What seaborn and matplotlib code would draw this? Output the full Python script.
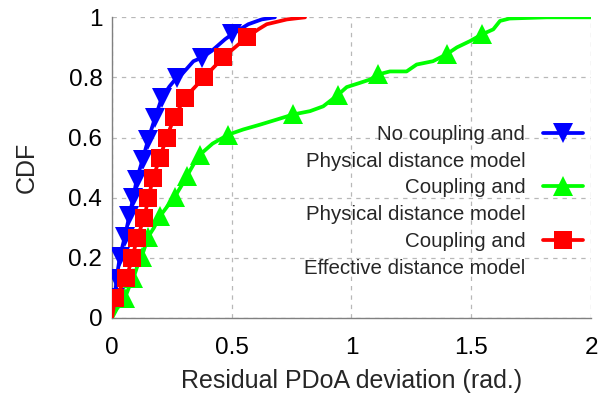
import matplotlib
matplotlib.use("Agg")
import matplotlib.pyplot as plt
from matplotlib.lines import Line2D
import seaborn as sns
import pandas as pd

# CDF curves of the residual PDoA deviation (rad.)
blue_x = [0.0, 0.006, 0.0125, 0.019, 0.033, 0.054, 0.072, 0.089, 0.103, 0.128,
          0.151, 0.180, 0.208, 0.240, 0.270, 0.291, 0.340, 0.375, 0.416, 0.472,
          0.500, 0.569, 0.625, 0.680]
blue_y = [0.0, 0.03, 0.066, 0.131, 0.204, 0.271, 0.338, 0.400, 0.460, 0.527,
          0.593, 0.666, 0.732, 0.770, 0.799, 0.810, 0.854, 0.866, 0.888, 0.927,
          0.943, 0.977, 0.993, 1.0]
blue_marks = [2, 3, 4, 5, 6, 7, 8, 9, 10, 11, 12, 14, 17, 20]

green_x = [0.0, 0.020, 0.054, 0.070, 0.089, 0.105, 0.124, 0.152, 0.175, 0.200,
           0.230, 0.263, 0.290, 0.312, 0.340, 0.367, 0.420, 0.486, 0.548, 0.618,
           0.688, 0.757, 0.827, 0.882, 0.945, 0.980, 1.035, 1.077, 1.112, 1.160,
           1.230, 1.272, 1.340, 1.397, 1.440, 1.495, 1.544, 1.592, 1.620, 1.660,
           1.815, 2.0]
green_y = [0.0, 0.03, 0.066, 0.100, 0.132, 0.170, 0.204, 0.271, 0.300, 0.338,
           0.370, 0.404, 0.440, 0.471, 0.510, 0.543, 0.580, 0.610, 0.627, 0.643,
           0.660, 0.677, 0.688, 0.704, 0.743, 0.768, 0.782, 0.793, 0.810, 0.820,
           0.820, 0.843, 0.854, 0.877, 0.900, 0.921, 0.943, 0.960, 0.988, 0.996,
           1.0, 1.0]
green_marks = [2, 4, 6, 7, 9, 11, 13, 15, 17, 21, 24, 28, 33, 36]

red_x = [0.0, 0.0125, 0.060, 0.085, 0.105, 0.135, 0.152, 0.172, 0.200, 0.228,
         0.260, 0.305, 0.384, 0.465, 0.562, 0.611, 0.646, 0.730, 0.806]
red_y = [0.0, 0.066, 0.133, 0.200, 0.267, 0.333, 0.400, 0.467, 0.533, 0.600,
         0.667, 0.733, 0.800, 0.867, 0.933, 0.960, 0.977, 0.993, 1.0]
red_marks = [1, 2, 3, 4, 5, 6, 7, 8, 9, 10, 11, 12, 13, 14]

labels = [
    ("No coupling and", "Physical distance model"),
    ("Coupling and", "Physical distance model"),
    ("Coupling and", "Effective distance model"),
]
x_ticks = [0, 0.5, 1, 1.5, 2]
x_tick_labels = ["0", "0.5", "1", "1.5", "2"]
y_ticks = [0, 0.2, 0.4, 0.6, 0.8, 1]
y_tick_labels = ["0", "0.2", "0.4", "0.6", "0.8", "1"]

sns.set_theme(style="white")
plt.rcParams["font.family"] = ["Liberation Sans", "DejaVu Sans"]

fig = plt.figure(figsize=(6.04, 4.0), dpi=100)
ax = fig.add_axes([0.1854, 0.205, 0.9785 - 0.1854, 0.9567 - 0.205])

series = [
    (blue_x, blue_y, blue_marks, "#0000ff", "v"),
    (green_x, green_y, green_marks, "#00ff00", "^"),
    (red_x, red_y, red_marks, "#ff0000", "s"),
]
handles = []
for xs, ys, marks, color, mk in series:
    df = pd.DataFrame({"x": xs, "y": ys})
    ms = 13 if mk == "s" else 14.5
    sns.lineplot(data=df, x="x", y="y", ax=ax, color=color, lw=2.7,
                 marker=mk, markersize=ms, markevery=marks,
                 markeredgecolor=color, markerfacecolor=color,
                 markeredgewidth=0, estimator=None, sort=False, zorder=3)
    handles.append(Line2D([], [], color=color, lw=2.7, marker=mk,
                          markersize=ms, markeredgewidth=0))

ax.set_xlim(0, 2)
ax.set_ylim(0, 1)
ax.set_xticks(x_ticks)
ax.set_xticklabels(x_tick_labels)
ax.set_yticks(y_ticks)
ax.set_yticklabels(y_tick_labels)
ax.tick_params(axis="both", direction="in", length=4, color="#808080",
               labelsize=17.5, colors="black")
ax.tick_params(axis="x", pad=14)
ax.tick_params(axis="y", pad=7)
ax.grid(True, color="#b8b8b8", linestyle=(0, (3.5, 4)), lw=0.9)
for side in ("top", "right"):
    ax.spines[side].set_visible(False)
for side in ("left", "bottom"):
    ax.spines[side].set_color("#808080")
    ax.spines[side].set_linewidth(1.0)

ax.set_xlabel("Residual PDoA deviation (rad.)", fontsize=18, labelpad=7)
ax.set_ylabel("CDF", fontsize=18, labelpad=21)

blank = Line2D([], [], linestyle="none", marker="none")
leg_handles, leg_labels = [], []
for h, (l1, l2) in zip(handles, labels):
    leg_handles += [h, blank]
    leg_labels += [l1, l2]
leg = ax.legend(leg_handles, leg_labels, loc="upper right",
                bbox_to_anchor=(1.0, 0.670), frameon=False, markerfirst=False,
                fontsize=14.8, handlelength=1.95, handletextpad=0.85,
                labelspacing=0.38, borderpad=0.4, borderaxespad=0,
                numpoints=1)

fig.savefig("out.png", dpi=100)
